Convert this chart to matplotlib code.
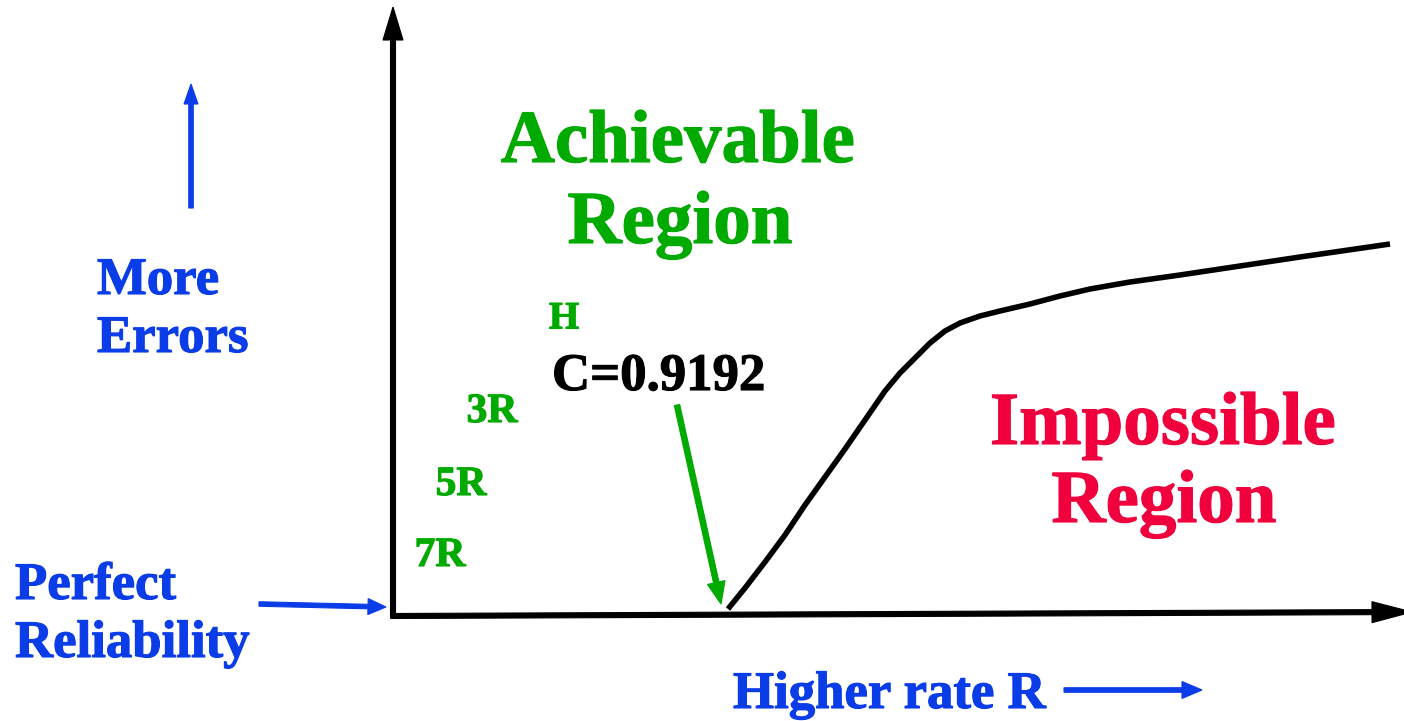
import matplotlib
matplotlib.use("Agg")
import matplotlib.pyplot as plt
import matplotlib.patheffects as pe
from matplotlib.font_manager import FontProperties

# Capacity boundary curve (rate R vs error level), in figure-pixel units
curve_x = [728, 745, 765, 785, 805, 825, 845, 865, 885, 900, 915, 930, 945, 960,
           980, 1000, 1030, 1060, 1090, 1130, 1180, 1240, 1300, 1390]
curve_y = [609, 588, 562, 535, 505, 477, 449, 420, 391, 373, 358, 343, 331, 323,
           316, 311, 304, 296, 289, 282, 275, 266, 257, 244]

# Labelled repetition / uncoded points
code_labels = ["H", "3R", "5R", "7R"]
code_x = [564, 492, 461, 440]
code_y = [319, 412, 485, 556]

capacity_label = "C=0.9192"

BLUE = "#0a3de8"
GREEN = "#00aa00"
RED = "#f0003c"


def fp(size):
    return FontProperties(family="Liberation Serif", weight="bold", size=size)


fig = plt.figure(figsize=(14.04, 7.21), dpi=100)
ax = fig.add_axes([0, 0, 1, 1])
ax.set_xlim(0, 1404)
ax.set_ylim(721, 0)
ax.axis("off")


def label(x, y, s, color, size, ha="center"):
    ax.text(x, y, s, color=color, fontproperties=fp(size), ha=ha, va="center",
            path_effects=[pe.withStroke(linewidth=0.8, foreground=color)])


def arrow(x0, y0, x1, y1, color, w, hw, hl):
    ax.arrow(x0, y0, x1 - x0, y1 - y0, width=w, head_width=hw, head_length=hl,
             length_includes_head=True, color=color, lw=0.8, ec=color, clip_on=False)


# axes arrows
arrow(393, 618, 393, 7, "black", 5, 20, 33)
arrow(391, 616, 1412, 612, "black", 5, 21, 40)

# boundary curve
ax.plot(curve_x, curve_y, color="black", lw=4, solid_capstyle="butt")

# region labels
label(678, 144, "Achievable", GREEN, 54)
label(680, 225, "Region", GREEN, 54)
label(1163, 426, "Impossible", RED, 54)
label(1164, 504, "Region", RED, 54)

# left annotations
arrow(191, 208, 191, 84, BLUE, 4.5, 14, 20)
label(97, 281, "More", BLUE, 38, ha="left")
label(97, 339, "Errors", BLUE, 38, ha="left")
label(15, 586, "Perfect", BLUE, 38, ha="left")
label(15, 644, "Reliability", BLUE, 38, ha="left")
arrow(259, 604, 386, 607, BLUE, 4.5, 16, 18)
label(733, 695, "Higher rate R", BLUE, 38, ha="left")
arrow(1064, 690, 1202, 690, BLUE, 4.5, 17, 20)

# code points
for lab, x, y in zip(code_labels, code_x, code_y):
    size = 28 if lab == "H" else 30
    label(x, y, lab, GREEN, size)

# capacity label + arrow
label(552, 377, capacity_label, "black", 38, ha="left")
arrow(677, 405, 721, 604, GREEN, 5.5, 18, 22)

fig.savefig("out.png", dpi=100)
